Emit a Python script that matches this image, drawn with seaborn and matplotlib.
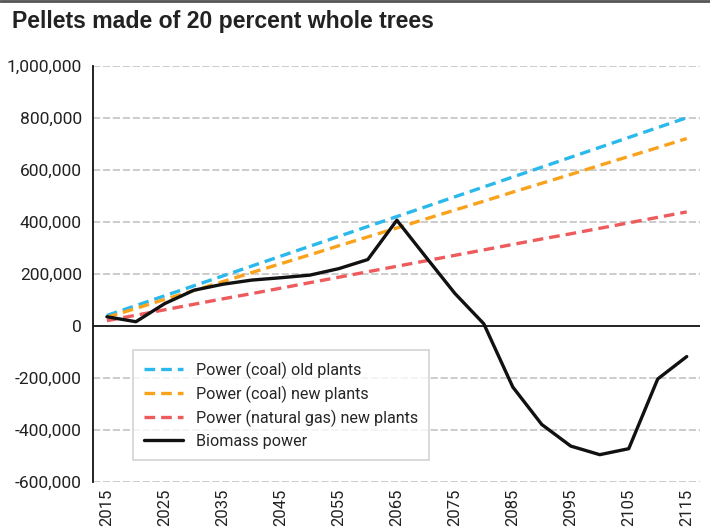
import matplotlib
matplotlib.use("Agg")
import matplotlib.pyplot as plt
import numpy as np
import pandas as pd
import seaborn as sns

years = list(range(2015, 2120, 5))

coal_old = [40000, 78000, 116000, 154000, 192000, 230000, 268000, 306000, 344000, 382000, 420000,
            458000, 496000, 534000, 572000, 610000, 648000, 686000, 724000, 762000, 800000]
coal_new = [33000, 67000, 102000, 136000, 170000, 205000, 239000, 273000, 308000, 342000, 376000,
            411000, 445000, 479000, 514000, 548000, 582000, 617000, 651000, 685000, 720000]
gas_new = [20000, 41000, 62000, 83000, 104000, 124000, 145000, 166000, 187000, 208000, 229000,
           250000, 271000, 292000, 313000, 334000, 354000, 375000, 396000, 417000, 438000]
biomass = [35000, 16000, 86000, 137000, 160000, 176000, 185000, 195000, 220000, 255000, 406000,
           265000, 125000, 8000, -235000, -379000, -462000, -495000, -472000, -204000, -118000]

series_names = [
    "Power (coal) old plants",
    "Power (coal) new plants",
    "Power (natural gas) new plants",
    "Biomass power",
]
yticks = [-600000, -400000, -200000, 0, 200000, 400000, 600000, 800000, 1000000]
xticks = list(range(2015, 2125, 10))

colors = ["#2bb8ea", "#f9a21b", "#ee5b5d", "#111111"]

sns.set_style("white")
plt.rcParams["font.family"] = ["Roboto", "DejaVu Sans"]

fig = plt.figure(figsize=(7.1, 5.27), dpi=100)
ax = fig.add_axes([0.131, 0.0854, 0.855, 0.79])

for name, vals, col in zip(series_names, [coal_old, coal_new, gas_new, biomass], colors):
    df = pd.DataFrame({"year": years, "value": vals})
    ls = (0, (3.2, 1.8)) if name != "Biomass power" else "-"
    sns.lineplot(data=df, x="year", y="value", ax=ax, color=col, linewidth=2.4,
                 label=name, linestyle=ls)

ax.set_xlim(2012.6, 2117.3)
ax.set_ylim(-600000, 1000000)
ax.set_yticks(yticks)
ax.set_yticklabels([f"{v:,}" for v in yticks], fontsize=12.5, color="#222222")
ax.set_xticks(xticks)
ax.set_xticklabels([str(x) for x in xticks], rotation=90, fontsize=12, color="#222222")
ax.tick_params(axis="y", length=0, pad=8)
ax.tick_params(axis="x", length=0, pad=5)
ax.set_xlabel("")
ax.set_ylabel("")

for y in yticks:
    if y == 0:
        ax.axhline(0, color="#111111", linewidth=1.3, zorder=1)
    else:
        ax.axhline(y, color="#c8c8c8", linewidth=1.3, linestyle=(0, (4, 1.5)), zorder=0)

for s in ["top", "right", "bottom"]:
    ax.spines[s].set_visible(False)
ax.spines["left"].set_color("#111111")
ax.spines["left"].set_linewidth(1.3)

leg = ax.legend(loc="lower left", bbox_to_anchor=(0.066, 0.053), fontsize=11.6,
                frameon=True, fancybox=False, edgecolor="#c8c8c8", handlelength=2.4,
                borderpad=0.7, labelspacing=0.42, borderaxespad=0)
leg.get_frame().set_linewidth(1.2)

fig.text(0.017, 0.96, "Pellets made of 20 percent whole trees", fontsize=16.6,
         fontweight="bold", color="#222222", va="center", family=["Liberation Sans", "DejaVu Sans"])
fig.add_artist(plt.Line2D([0, 1], [0.998, 0.998], color="#555555", linewidth=2))

fig.savefig("out.png", dpi=100)
